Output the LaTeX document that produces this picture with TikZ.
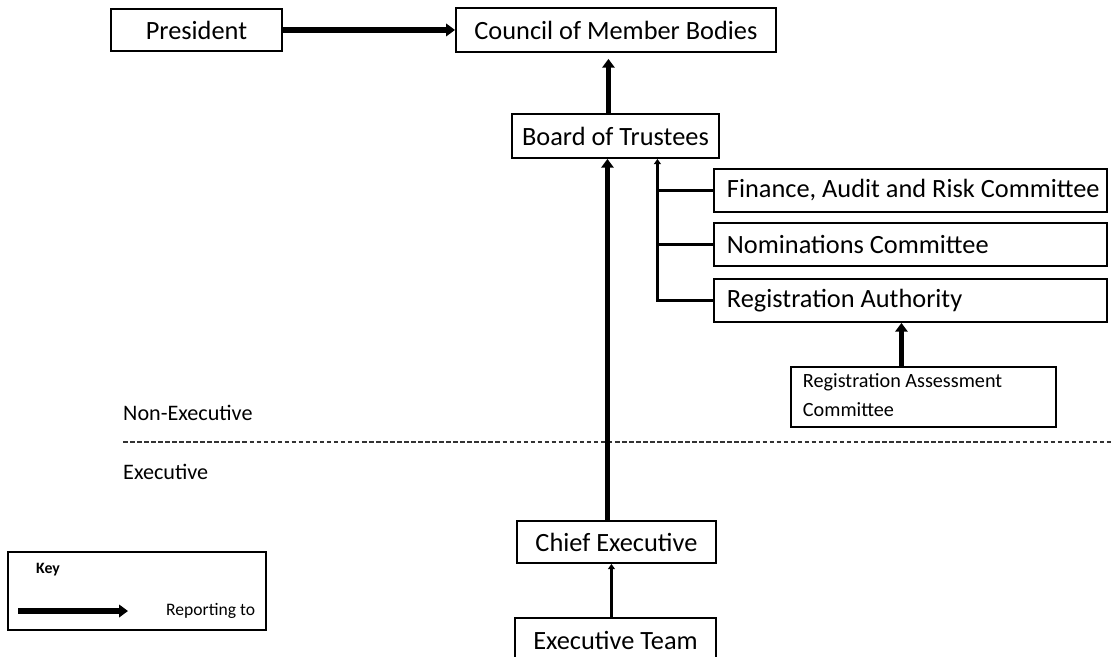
\documentclass[tikz,border=0pt]{standalone}
\usepackage{fontspec}
\setmainfont{Carlito}
\usetikzlibrary{arrows.meta}

\newcommand{\boxtext}[2]{\makebox[#1][l]{#2}}

\tikzset{
  unit/.style={draw, line width=1.1pt, anchor=north west, inner sep=0pt,
    font=\fontsize{15}{17}\selectfont},
  subunit/.style={unit, inner xsep=0.26cm, minimum height=0.86cm},
  report/.style={line width=3pt, -{Triangle[length=5pt, width=7pt]}},
  branch/.style={line width=1.6pt}
}

\begin{document}
\begin{tikzpicture}[x=0.02cm, y=-0.02cm]
\useasboundingbox (0,0) rectangle (1112,656);
% non-executive side
\node[unit, minimum width=3.42cm, minimum height=0.84cm] (president) at (110,8) {President};
\node[unit, minimum width=6.4cm, minimum height=0.88cm] (council) at (455,7) {Council of Member Bodies};
\node[unit, minimum width=4.14cm, minimum height=0.88cm] (board) at (511,113) {Board of Trustees};
\node[subunit] (finance) at (713,168) {\boxtext{7.34cm}{Finance, Audit and Risk Committee}};
\node[subunit] (nominations) at (713,222) {\boxtext{7.34cm}{Nominations Committee}};
\node[subunit] (regauth) at (713,278) {\boxtext{7.34cm}{Registration Authority}};
\node[unit, inner xsep=0.24cm, minimum height=1.2cm,
  font=\fontsize{11.5}{13.6}\selectfont] (regassess) at (790,366)
  {\boxtext{4.82cm}{\begin{tabular}{@{}l@{}}Registration Assessment\\[3pt]Committee\end{tabular}}};
% executive side
\node[unit, minimum width=3.98cm, minimum height=0.84cm] (chief) at (516,520) {Chief Executive};
\node[unit, minimum width=4.02cm, minimum height=0.9cm] (team) at (514,617) {Executive Team};
% split
\node[anchor=west, font=\fontsize{12.6}{14}\selectfont] (nonexec) at (117,413) {Non-Executive};
\node[anchor=west, font=\fontsize{12.6}{14}\selectfont] (exec) at (117,472) {Executive};
\coordinate (splitL) at (123,442);
\coordinate (splitR) at (1112,442);
\draw[line width=0.7pt, dash pattern=on 2.6pt off 1.4pt, black!80] (splitL) -- (splitR);
% reporting lines
\draw[report] (president.east) -- (council.west);
\draw[report] ([xshift=-0.14cm]board.north) -- ([xshift=-0.14cm, yshift=-0.12cm]board.north |- council.south);
\draw[report] ([xshift=-0.18cm]chief.north) -- ([xshift=-0.18cm]chief.north |- board.south);
\coordinate (bus) at ([xshift=0.84cm]board.south);
\draw[branch, -{Triangle[length=3pt, width=4pt]}] (regauth.west) -| (bus);
\draw[branch] (finance.west) -- (finance.west -| bus);
\draw[branch] (nominations.west) -- (nominations.west -| bus);
\draw[report] ([xshift=-0.44cm]regassess.north) -- ([xshift=-0.44cm]regassess.north |- regauth.south);
\draw[branch, -{Triangle[length=3pt, width=4pt]}] ([xshift=-0.08cm]team.north) -- ([xshift=-0.08cm]team.north |- chief.south);
% key
\draw[line width=0.8pt] (8,552) rectangle (266,630);
\node[anchor=west, font=\fontsize{9}{11}\selectfont\bfseries] (keytitle) at (30,570) {Key};
\node[anchor=west, font=\fontsize{10}{12}\selectfont] (keylabel) at (160,611) {Reporting to};
\coordinate (keyfrom) at (18,611);
\coordinate (keyto) at (128,611);
\draw[report] (keyfrom) -- (keyto);
\end{tikzpicture}
\end{document}
